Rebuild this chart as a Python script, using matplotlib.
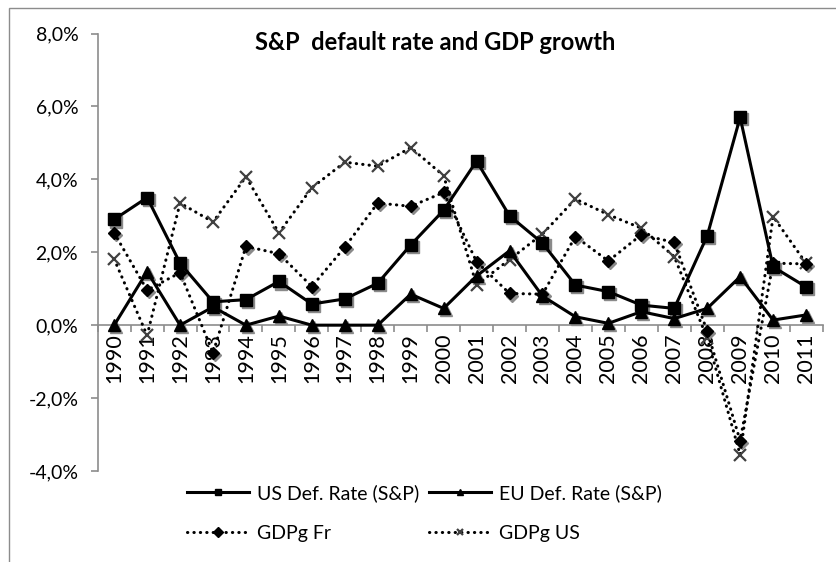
import matplotlib.pyplot as plt
import numpy as np
from matplotlib.patches import Rectangle
from matplotlib.transforms import ScaledTranslation

plt.rcParams['font.family'] = ['Lato', 'DejaVu Sans']

years = [str(y) for y in range(1990, 2012)]
us_def = [2.9, 3.5, 1.7, 0.64, 0.7, 1.2, 0.58, 0.72, 1.15, 2.2, 3.15,
          4.5, 3.0, 2.25, 1.1, 0.92, 0.55, 0.46, 2.45, 5.7, 1.6, 1.05]
eu_def = [0.0, 1.47, 0.0, 0.5, 0.0, 0.25, 0.0, 0.0, 0.0, 0.85, 0.46,
          1.35, 2.04, 0.8, 0.23, 0.05, 0.37, 0.18, 0.46, 1.33, 0.14, 0.28]
gdp_fr = [2.53, 0.96, 1.44, -0.76, 2.16, 1.96, 1.06, 2.14, 3.35, 3.26, 3.64,
          1.74, 0.87, 0.85, 2.43, 1.76, 2.48, 2.27, -0.16, -3.17, 1.7, 1.68]
gdp_us = [1.81, -0.28, 3.35, 2.83, 4.07, 2.53, 3.77, 4.47, 4.36, 4.87, 4.1,
          1.1, 1.8, 2.5, 3.46, 3.03, 2.66, 1.88, -0.36, -3.55, 2.98, 1.7]

fig = plt.figure(figsize=(8.37, 5.62), dpi=100)
ax = fig.add_axes([97.7 / 837, 1 - 471 / 562, (822.5 - 97.7) / 837, (471 - 33.5) / 562])

# chart area frame
fig.add_artist(Rectangle((9 / 837, -0.1), 1.2, 1.1 - 8 / 562, transform=fig.transFigure,
                         fill=False, edgecolor='#8c8c8c', lw=1))

x = np.arange(len(years))
shadow = ax.transData + ScaledTranslation(1.5 / 72, -1.5 / 72, fig.dpi_scale_trans)
dots = (0, (0.1, 2.0))

series = [
    (gdp_us, 'GDPg US', dots, 'x', 8.5, '#404040'),
    (gdp_fr, 'GDPg Fr', dots, 'D', 6.5, 'black'),
    (eu_def, 'EU Def. Rate (S&P)', '-', '^', 9, 'black'),
    (us_def, 'US Def. Rate (S&P)', '-', 's', 8.5, 'black'),
]
handles = {}
for vals, label, ls, mk, ms, mc in series:
    if mk != 'x':
        ax.plot(x, vals, linestyle='none', marker=mk, ms=ms, color='#8a8a8a',
                transform=shadow, zorder=2)
    ln, = ax.plot(x, vals, color='black', lw=2.2, linestyle=ls, dash_capstyle='round',
                  marker=mk, ms=ms, mfc=mc, mec=mc, mew=1.6 if mk == 'x' else 1,
                  label=label, zorder=3)
    handles[label] = ln

for s in ['top', 'right']:
    ax.spines[s].set_visible(False)
ax.spines['bottom'].set_position(('data', 0))
for s in ['left', 'bottom']:
    ax.spines[s].set_color('#8c8c8c')
    ax.spines[s].set_linewidth(1.2)

ax.set_xlim(-0.5, len(years) - 0.5)
ax.set_ylim(-4, 8)
ax.set_yticks(np.arange(-4, 9, 2))
ax.yaxis.set_major_formatter(lambda v, p: f"{v:.1f}".replace('.', ',') + '%')
ax.set_xticks(x)
ax.set_xticklabels(years)
ax.set_xticks(np.arange(-0.5, len(years), 1), minor=True)

ax.tick_params(axis='y', direction='out', length=5, width=1.2, color='#8c8c8c',
               labelsize=14, pad=9)
ax.tick_params(axis='x', which='major', length=0, labelsize=15.5, pad=6,
               labelrotation=90)
ax.tick_params(axis='x', which='minor', direction='out', length=5, width=1.2,
               color='#8c8c8c')

fig.text(435 / 837, 1 - 42 / 562, 'S&P  default rate and GDP growth', ha='center',
         va='center', fontsize=17, fontweight='bold')

order = ['US Def. Rate (S&P)', 'GDPg Fr', 'EU Def. Rate (S&P)', 'GDPg US']
leg = fig.legend([handles[k] for k in order], order, ncol=2, loc='center',
                 bbox_to_anchor=(424 / 837, 1 - 513 / 562), frameon=False,
                 fontsize=14, handlelength=3.2, handletextpad=0.4,
                 columnspacing=0.5, labelspacing=1.15)
for h in leg.legend_handles:
    h.set_markersize(5)

fig.savefig('out.png', dpi=100)
